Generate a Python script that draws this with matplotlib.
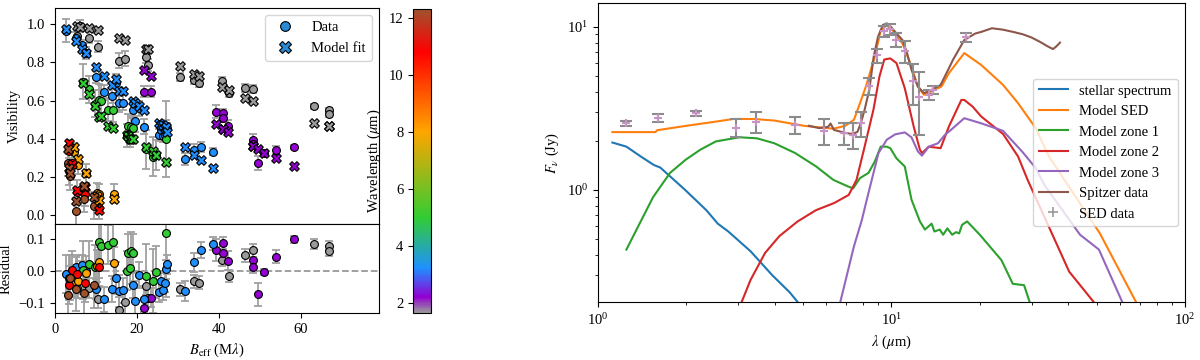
import numpy as np
import matplotlib
matplotlib.use('Agg')
import matplotlib.pyplot as plt
from matplotlib.colors import LinearSegmentedColormap, Normalize
from matplotlib.cm import ScalarMappable
from matplotlib.lines import Line2D

plt.rcParams['font.family'] = ['Liberation Serif', 'DejaVu Serif']
plt.rcParams['mathtext.fontset'] = 'stix'
plt.rcParams['font.size'] = 10.5

# ---- interferometry: one wavelength per band ----
band_wl = [1.65, 2.2, 3.2, 5.0, 8.0, 10.8, 12.3]
band_colors = ['#9a9a9a', 'darkviolet', 'dodgerblue', 'limegreen', 'orange', 'red', 'sienna']

# baseline (Mlambda), visibility, error, residual (data - model)
B_H = [5.4, 6.1, 8.4, 10.6, 15.7, 17.1, 22.1, 22.6, 30.5, 33.9, 35.1, 40.7, 42.4, 46.3, 48.4, 63.2, 66.7, 66.7]
V_H = [0.94, 0.99, 0.93, 0.883, 0.81, 0.82, 0.828, 0.787, 0.723, 0.709, 0.692, 0.705, 0.64, 0.666, 0.662, 0.57, 0.549, 0.531]
E_H = [0.03, 0.03, 0.03, 0.03, 0.04, 0.04, 0.03, 0.03, 0.02, 0.02, 0.02, 0.02, 0.02, 0.02, 0.02, 0.015, 0.015, 0.015]
R_H = [-0.052, 0.002, -0.052, -0.085, -0.12, -0.096, -0.045, -0.082, -0.056, -0.032, -0.036, 0.035, -0.015, 0.05, 0.065, 0.085, 0.08, 0.063]

B_K = [21.8, 23.4, 39.2, 41.0, 41.0, 42.3, 48.2, 48.2, 49.4, 51.0, 53.8, 58.3]
V_K = [0.648, 0.648, 0.543, 0.538, 0.509, 0.469, 0.396, 0.375, 0.274, 0.325, 0.343, 0.357]
E_K = [0.03, 0.03, 0.035, 0.02, 0.02, 0.03, 0.03, 0.02, 0.035, 0.01, 0.02, 0.01]
R_K = [-0.113, -0.082, 0.066, 0.088, 0.057, 0.033, 0.034, 0.014, -0.072, -0.002, 0.045, 0.099]

B_L = [2.6, 5.1, 6.5, 7.6, 10.0, 12.0, 13.8, 15.0, 15.7, 16.5, 19.0, 19.5, 20.4, 21.7, 25.4, 25.9,
       26.3, 26.8, 27.0, 27.2, 31.7, 34.0, 35.6, 38.6]
V_L = [0.966, 0.927, 0.89, 0.85, 0.723, 0.643, 0.627, 0.69, 0.59, 0.59, 0.552, 0.496, 0.56, 0.465, 0.42, 0.445,
       0.413, 0.42, 0.469, 0.455, 0.295, 0.343, 0.357, 0.334]
E_L = [0.06, 0.03, 0.03, 0.03, 0.03, 0.04, 0.04, 0.05, 0.05, 0.04, 0.04, 0.06, 0.04, 0.04, 0.03, 0.03,
       0.03, 0.03, 0.03, 0.03, 0.03, 0.03, 0.025, 0.02]
R_L = [-0.009, 0.013, 0.019, 0.002, -0.055, -0.088, -0.056, -0.022, -0.062, -0.06, -0.044, -0.092, -0.011, -0.087, -0.065, -0.03,
       -0.06, -0.036, 0.006, 0.021, -0.062, 0.028, 0.066, 0.085]

B_M = [6.9, 8.4, 9.8, 10.8, 11.2, 13.0, 14.2, 17.5, 17.7, 18.3, 18.6, 19.0, 22.1, 23.8, 24.6, 27.0]
V_M = [0.70, 0.66, 0.585, 0.605, 0.60, 0.552, 0.549, 0.42, 0.469, 0.41, 0.46, 0.457, 0.345, 0.308, 0.315, 0.40]
E_M = [0.09, 0.07, 0.07, 0.08, 0.08, 0.06, 0.06, 0.06, 0.06, 0.05, 0.06, 0.06, 0.1, 0.1, 0.08, 0.2]
R_M = [0.005, 0.024, 0.012, 0.09, 0.08, 0.083, 0.092, 0.002, 0.056, 0.01, 0.062, 0.057, -0.015, -0.03, -0.002, 0.12]

B_N1 = [4.6, 5.5, 7.5, 10.2, 10.8, 14.4]
V_N1 = [0.33, 0.265, 0.22, 0.118, 0.112, 0.113]
E_N1 = [0.05, 0.05, 0.05, 0.05, 0.05, 0.05]
R_N1 = [-0.03, -0.032, -0.004, 0.016, 0.03, 0.026]

B_N2 = [3.5, 4.1, 5.4, 7.3, 10.7]
V_N2 = [0.335, 0.273, 0.124, 0.11, 0.04]
E_N2 = [0.06, 0.06, 0.06, 0.06, 0.06]
R_N2 = [-0.043, 0.004, -0.01, -0.036, 0.014]

B_N3 = [3.2, 3.5, 3.7, 5.1, 7.1, 9.6]
V_N3 = [0.274, 0.23, 0.204, 0.021, 0.086, 0.051]
E_N3 = [0.07, 0.07, 0.07, 0.07, 0.07, 0.07]
R_N3 = [-0.075, -0.02, -0.02, -0.055, -0.068, -0.044]

groups = [(B_H, V_H, E_H, R_H), (B_K, V_K, E_K, R_K), (B_L, V_L, E_L, R_L), (B_M, V_M, E_M, R_M),
          (B_N1, V_N1, E_N1, R_N1), (B_N2, V_N2, E_N2, R_N2), (B_N3, V_N3, E_N3, R_N3)]

# ---- SED ----
lam_star = [1.12, 1.25, 1.4, 1.55, 1.63, 1.98, 2.34, 2.56, 2.78, 3.31, 3.92, 4.5, 4.9]
f_star = [1.95, 1.84, 1.6, 1.42, 1.37, 1.0, 0.75, 0.62, 0.555, 0.42, 0.30, 0.235, 0.195]

lam_sed = [1.12, 1.25, 1.57, 1.59, 2.0, 2.52, 2.89, 3.4, 3.99, 5.03, 6.34, 6.96, 7.45, 7.81, 8.18, 8.77,
           9.19, 9.63, 10.1, 10.9, 11.6, 12.3, 12.9, 14.0, 14.8, 15.7, 17.7, 20.2, 24.0, 27.0, 31.0, 34.4,
           51.3, 68.6]
f_sed = [2.26, 2.26, 2.26, 2.32, 2.47, 2.62, 2.72, 2.72, 2.66, 2.47, 2.37, 2.47, 2.69, 3.4, 4.3, 6.55,
         9.5, 10.2, 9.5, 7.9, 5.96, 4.3, 3.83, 4.1, 4.3, 5.2, 6.9, 5.84, 4.4, 3.4, 2.39, 1.6,
         0.54, 0.2]

lam_z1 = [1.25, 1.54, 1.76, 1.99, 2.23, 2.52, 3.03, 3.48, 3.99, 4.7, 5.54, 6.34, 7.1, 7.4, 7.81, 8.35,
          8.77, 9.19, 9.63, 9.91, 10.4, 11.1, 11.7, 12.5, 13.0, 13.7, 14.0, 14.6, 15.0, 15.5, 16.1, 16.6,
          17.0, 17.4, 18.1, 20.0, 23.7, 25.9, 28.3, 29.7]
f_z1 = [0.43, 0.9, 1.27, 1.53, 1.76, 1.98, 2.1, 2.07, 1.93, 1.68, 1.39, 1.15, 1.05, 1.02, 1.18, 1.27,
        1.49, 1.84, 1.84, 1.8, 1.56, 1.39, 0.87, 0.64, 0.57, 0.62, 0.555, 0.57, 0.53, 0.58, 0.53, 0.55,
        0.54, 0.61, 0.64, 0.53, 0.37, 0.265, 0.26, 0.2]

lam_z2 = [3.07, 3.31, 3.71, 4.15, 4.79, 5.53, 6.38, 7.15, 7.6, 8.1, 8.68, 9.1, 9.45, 9.91, 10.4, 11.1,
          11.9, 12.5, 12.7, 13.4, 14.7, 15.7, 17.3, 17.7, 18.9, 20.2, 24.0, 27.0, 29.1, 40.3, 49.4]
f_z2 = [0.2, 0.28, 0.41, 0.52, 0.64, 0.75, 0.83, 0.93, 1.15, 1.84, 3.1, 4.96, 6.3, 6.4, 5.99, 4.2,
        2.45, 1.76, 1.68, 1.84, 1.8, 2.45, 3.56, 3.56, 3.24, 2.82, 2.2, 1.6, 1.15, 0.315, 0.2]

lam_z3 = [6.67, 7.45, 7.92, 8.24, 9.03, 9.64, 10.3, 11.1, 11.7, 12.3, 12.7, 13.4, 14.4, 15.2, 16.2, 17.7,
          20.2, 24.0, 28.0, 31.0, 33.2, 43.9, 50.9, 61.5]
f_z3 = [0.2, 0.45, 0.65, 0.87, 1.68, 2.03, 2.19, 2.25, 2.1, 1.72, 1.62, 1.84, 1.93, 2.17, 2.39, 2.75,
        2.56, 2.3, 1.7, 1.36, 1.07, 0.53, 0.43, 0.2]

lam_spitzer = [5.23, 5.67, 6.08, 6.2, 6.37, 6.98, 7.39, 7.66, 7.86, 8.1, 8.4, 8.7, 9.0, 9.35, 9.64, 9.95,
               10.4, 10.9, 11.3, 11.7, 12.3, 12.9, 13.7, 14.7, 15.6, 16.2, 17.7, 19.3, 20.2, 22.0, 24.0, 26.0,
               28.0, 30.0, 32.0, 34.0, 35.5, 36.5, 37.5]
f_spitzer = [2.47, 2.39, 2.43, 2.55, 2.33, 2.23, 2.2, 2.27, 2.56, 3.1, 4.1, 6.58, 8.7, 10.27, 10.5, 10.0,
             9.1, 8.3, 6.9, 5.45, 4.3, 3.92, 4.1, 4.4, 5.45, 6.27, 8.3, 9.1, 9.3, 9.8, 9.6, 9.3,
             9.0, 8.6, 8.1, 7.6, 7.3, 7.6, 8.0]

lam_obs = [1.25, 1.6, 2.15, 2.95, 3.45, 4.7, 5.9, 6.9, 7.4, 7.9, 8.4, 8.9, 9.4, 9.9, 10.4, 11.1,
           11.8, 12.4, 13.4, 13.9, 17.9]
f_obs = [2.56, 2.75, 2.95, 2.41, 2.62, 2.5, 2.31, 2.23, 2.17, 2.56, 4.34, 6.7, 9.36, 9.65, 8.3, 7.06,
         4.62, 3.73, 3.83, 4.1, 8.6]
e_obs = [0.1, 0.15, 0.1, 0.3, 0.4, 0.3, 0.42, 0.34, 0.4, 0.45, 0.54, 0.66, 0.7, 0.7, 0.8, 1.07,
         1.3, 1.55, 0.25, 0.25, 0.5]

# ---- figure ----
fig = plt.figure(figsize=(12, 3.6), dpi=100)
ax_v = fig.add_axes([0.0458, 0.3778, 0.27, 0.6])
ax_r = fig.add_axes([0.0458, 0.1306, 0.27, 0.2472], sharex=ax_v)
cax = fig.add_axes([0.3442, 0.1306, 0.015, 0.8444])
ax_s = fig.add_axes([0.4983, 0.1611, 0.4892, 0.8306])

norm = Normalize(vmin=band_wl[0], vmax=band_wl[-1])
cmap = LinearSegmentedColormap.from_list('bands', list(zip(norm(band_wl), band_colors)))

ebar = dict(fmt='none', ecolor='#a0a0a0', elinewidth=1.3, capsize=3, capthick=1.3, zorder=1)
for (B, V, E, R), wl in zip(groups, band_wl):
    ax_v.errorbar(B, V, yerr=E, **ebar)
    ax_r.errorbar(B, R, yerr=E, **ebar)
for (B, V, E, R), wl in zip(groups, band_wl):
    col = cmap(norm(wl))
    ax_v.scatter(B, V, color=col, marker='o', s=32, edgecolor='k', linewidth=0.8, zorder=2)
    ax_r.scatter(B, R, color=col, marker='o', s=32, edgecolor='k', linewidth=0.8, zorder=2)
for (B, V, E, R), wl in zip(groups, band_wl):
    col = cmap(norm(wl))
    model = np.array(V) - np.array(R)
    ax_v.scatter(B, model, color=col, marker='X', s=48, edgecolor='k', linewidth=0.8, zorder=3)

handles = [Line2D([], [], ls='none', marker='o', ms=7, mfc='#2a8ad4', mec='k', mew=0.8),
           Line2D([], [], ls='none', marker='X', ms=8, mfc='#2a8ad4', mec='k', mew=0.8)]
ax_v.legend(handles, ['Data', 'Model fit'], loc='upper right', fontsize=10.5)
ax_v.set_ylim(-0.045, 1.085)
ax_v.set_yticks([0.0, 0.2, 0.4, 0.6, 0.8, 1.0])
ax_v.set_ylabel('Visibility')
ax_v.tick_params(labelbottom=False)

ax_r.axhline(0, color='#999999', ls='--', lw=1.3, zorder=0)
ax_r.set_xlim(0, 79)
ax_r.set_ylim(-0.13, 0.147)
ax_r.set_xticks([0, 20, 40, 60])
ax_r.set_yticks([-0.1, 0.0, 0.1])
ax_r.set_ylabel('Residual')
ax_r.set_xlabel(r'$B_{\rm eff}$ (M$\lambda$)')

cb = fig.colorbar(ScalarMappable(norm=norm, cmap=cmap), cax=cax)
cb.set_ticks([2, 4, 6, 8, 10, 12])
cax.yaxis.set_ticks_position('left')
cax.yaxis.set_label_position('left')
cb.set_label(r'Wavelength ($\mu$m)')

# SED panel
ax_s.loglog(lam_star, f_star, color='C0', lw=1.5, label='stellar spectrum')
ax_s.loglog(lam_sed, f_sed, color='C1', lw=1.5, label='Model SED')
ax_s.loglog(lam_z1, f_z1, color='C2', lw=1.5, label='Model zone 1')
ax_s.loglog(lam_z2, f_z2, color='C3', lw=1.5, label='Model zone 2')
ax_s.loglog(lam_z3, f_z3, color='C4', lw=1.5, label='Model zone 3')
ax_s.loglog(lam_spitzer, f_spitzer, color='C5', lw=1.5, label='Spitzer data')
ax_s.errorbar(lam_obs, f_obs, yerr=e_obs, fmt='none', ecolor='#8c8c8c', elinewidth=1.5,
              capsize=4, capthick=1.5, zorder=4)
ax_s.plot(lam_obs, f_obs, ls='none', marker='+', ms=6, mew=1.5, color='#c793c4', zorder=5)

h, l = ax_s.get_legend_handles_labels()
h.append(Line2D([], [], ls='none', marker='+', ms=7, mew=1.2, color='#999999'))
l.append('SED data')
ax_s.legend(h, l, loc='center right', fontsize=10.5)
ax_s.set_xlim(1, 100)
ax_s.set_ylim(0.205, 14)
ax_s.set_xlabel(r'$\lambda$ ($\mu$m)')
ax_s.set_ylabel(r'$F_\nu$ (Jy)')

fig.savefig('out.png', dpi=100)
